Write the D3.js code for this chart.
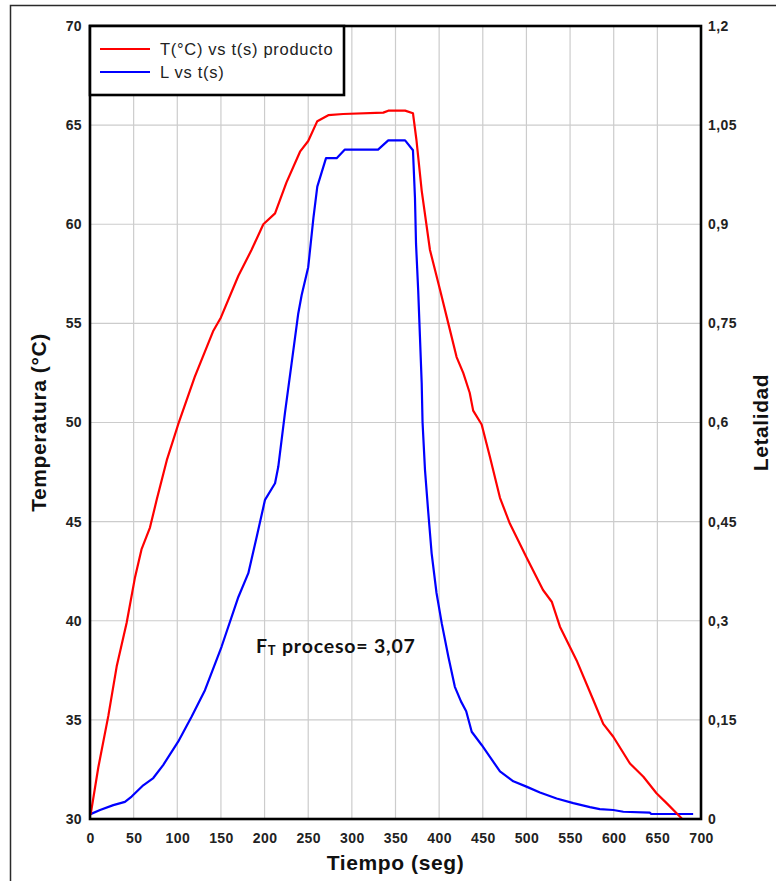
<!DOCTYPE html>
<html>
<head>
<meta charset="utf-8">
<script src="https://cdn.jsdelivr.net/npm/d3@7"></script>
<style>
  html, body { margin: 0; padding: 0; background: #fff; }
  svg { display: block; }
</style>
</head>
<body>
<svg id="chart" width="776" height="881"></svg>
<script>
// ---- Data ----
const tempTime = [0, 1, 9.5, 21, 30.6, 42, 51.6, 59, 68.7, 76.4, 88, 101, 120, 141, 150, 170, 185, 198.6, 212, 225, 240.6, 250, 260.4, 273, 290, 336, 341.7, 361, 370, 374, 380, 389.5, 401, 410.5, 420, 427.6, 435, 439, 448.7, 458, 469.7, 481, 500, 519, 529, 538.4, 557.5, 576.6, 588, 599.5, 618.6, 634, 649, 660.6, 678];
const tempValues = [30.2, 30.3, 32.6, 35.2, 37.7, 39.9, 42.2, 43.6, 44.7, 46.1, 48.1, 49.9, 52.3, 54.6, 55.3, 57.4, 58.7, 60.0, 60.55, 62.1, 63.66, 64.2, 65.2, 65.5, 65.56, 65.63, 65.73, 65.73, 65.6, 64.25, 61.7, 58.7, 56.7, 55.0, 53.3, 52.5, 51.5, 50.6, 49.9, 48.3, 46.2, 44.9, 43.2, 41.55, 40.96, 39.7, 38.0, 36.0, 34.8, 34.15, 32.8, 32.13, 31.3, 30.8, 30.03];

const letTime = [0, 11.5, 26.7, 40, 47.7, 61, 72.5, 84, 101, 116.5, 131.7, 150.8, 170, 181.4, 191, 200.5, 212, 215.7, 223.4, 231, 238.6, 242.5, 250, 256, 260.4, 270.4, 282.6, 292, 330, 341.7, 361, 370, 372.3, 373.5, 376, 378, 380, 381, 383.8, 387.6, 391.4, 397, 403, 410.5, 418, 425, 431, 437.3, 448.7, 469.7, 485, 500, 515.5, 534.6, 553.7, 572.8, 584, 599.5, 611, 641.5, 643, 691];
const letValues = [0.007, 0.0136, 0.021, 0.026, 0.034, 0.051, 0.062, 0.082, 0.117, 0.155, 0.195, 0.261, 0.336, 0.372, 0.427, 0.483, 0.508, 0.533, 0.615, 0.69, 0.765, 0.793, 0.835, 0.91, 0.957, 1.0, 1.0, 1.013, 1.013, 1.027, 1.027, 1.012, 0.94, 0.871, 0.80, 0.73, 0.66, 0.60, 0.528, 0.463, 0.402, 0.342, 0.296, 0.246, 0.20, 0.178, 0.163, 0.132, 0.112, 0.072, 0.057, 0.049, 0.040, 0.031, 0.024, 0.018, 0.015, 0.0136, 0.011, 0.0096, 0.0076, 0.0076];

const xTicks = [0, 50, 100, 150, 200, 250, 300, 350, 400, 450, 500, 550, 600, 650, 700];
const yLeftTicks = [30, 35, 40, 45, 50, 55, 60, 65, 70];
const yRightTicks = [0, 0.15, 0.3, 0.45, 0.6, 0.75, 0.9, 1.05, 1.2];

const seriesNames = ["T(°C) vs t(s) producto", "L vs t(s)"];
const seriesColors = ["#ff0000", "#0000ff"];

const xTitle = "Tiempo (seg)";
const yLeftTitle = "Temperatura (°C)";
const yRightTitle = "Letalidad";

// ---- Layout ----
const svg = d3.select("#chart");
const pL = 90, pR = 701, pT = 26, pB = 819;

const x = d3.scaleLinear().domain([0, 700]).range([pL, pR]);
const yL = d3.scaleLinear().domain([30, 70]).range([pB, pT]);
const yR = d3.scaleLinear().domain([0, 1.2]).range([pB, pT]);

const fmtComma = v => String(+v.toFixed(2)).replace(".", ",");
const tickFont = "'Liberation Sans', Arial, sans-serif";

// outer frame
svg.append("rect").attr("x", 10.5).attr("y", 5.5).attr("width", 800).attr("height", 900)
  .attr("fill", "none").attr("stroke", "#2a2a2a").attr("stroke-width", 1.5);

// grid
const grid = svg.append("g").attr("stroke", "#cccccc").attr("stroke-width", 1.2);
xTicks.filter(t => t > 0 && t < 700).forEach(t => {
  grid.append("line").attr("x1", x(t)).attr("x2", x(t)).attr("y1", pT).attr("y2", pB);
});
yLeftTicks.filter(t => t > 30 && t < 70).forEach(t => {
  grid.append("line").attr("x1", pL).attr("x2", pR).attr("y1", yL(t)).attr("y2", yL(t));
});

// axes (labels only, using d3 axes)
const axisStyle = g => {
  g.select(".domain").remove();
  g.selectAll(".tick line").remove();
  g.selectAll("text").attr("font-family", tickFont).attr("font-weight", "bold")
    .attr("font-size", 14).attr("letter-spacing", 0.4).attr("fill", "#222");
};
svg.append("g").attr("transform", `translate(0,${pB})`)
  .call(d3.axisBottom(x).tickValues(xTicks).tickSize(0).tickPadding(14))
  .call(axisStyle);
svg.append("g").attr("transform", `translate(${pL},0)`)
  .call(d3.axisLeft(yL).tickValues(yLeftTicks).tickSize(0).tickPadding(8))
  .call(axisStyle);
svg.append("g").attr("transform", `translate(${pR},0)`)
  .call(d3.axisRight(yR).tickValues(yRightTicks).tickSize(0).tickPadding(7).tickFormat(fmtComma))
  .call(axisStyle);

// lines
const lineT = d3.line().x(d => x(d[0])).y(d => yL(d[1]));
const lineL = d3.line().x(d => x(d[0])).y(d => yR(d[1]));
svg.append("path").datum(letTime.map((t, i) => [t, letValues[i]]))
  .attr("d", lineL).attr("fill", "none").attr("stroke", seriesColors[1]).attr("stroke-width", 2.2)
  .attr("stroke-linejoin", "round");
svg.append("path").datum(tempTime.map((t, i) => [t, tempValues[i]]))
  .attr("d", lineT).attr("fill", "none").attr("stroke", seriesColors[0]).attr("stroke-width", 2.2)
  .attr("stroke-linejoin", "round");

// plot border
svg.append("rect").attr("x", pL).attr("y", pT).attr("width", pR - pL).attr("height", pB - pT)
  .attr("fill", "none").attr("stroke", "#000").attr("stroke-width", 2.6);

// legend
const lg = svg.append("g");
lg.append("rect").attr("x", pL).attr("y", pT).attr("width", 254).attr("height", 69)
  .attr("fill", "#fff").attr("stroke", "#000").attr("stroke-width", 2.6);
seriesNames.forEach((name, i) => {
  const yy = 49 + i * 23;
  lg.append("line").attr("x1", 100).attr("x2", 150).attr("y1", yy).attr("y2", yy)
    .attr("stroke", seriesColors[i]).attr("stroke-width", 2.2);
  lg.append("text").attr("x", 160).attr("y", yy).attr("dy", "0.36em")
    .attr("font-family", tickFont).attr("font-size", 16.5).attr("letter-spacing", 0.7)
    .attr("fill", "#222").text(name);
});

// annotation
const ann = svg.append("text").attr("x", 256).attr("y", 653)
  .attr("font-family", "Lato, 'Open Sans', sans-serif").attr("font-weight", "bold")
  .attr("font-size", 19.5).attr("letter-spacing", 0.8).attr("fill", "#111");
ann.append("tspan").text("F");
ann.append("tspan").attr("font-size", 13).attr("dy", 2).text("T");
ann.append("tspan").attr("dy", -2).text(" proceso= 3,07");

// axis titles
svg.append("text").attr("x", (pL + pR) / 2).attr("y", 862).attr("dy", "0.36em")
  .attr("text-anchor", "middle").attr("font-family", tickFont).attr("font-weight", "bold")
  .attr("font-size", 21).attr("letter-spacing", 0.6).attr("fill", "#111").text(xTitle);
svg.append("text").attr("transform", `translate(38,${(pT + pB) / 2}) rotate(-90)`)
  .attr("dy", "0.36em").attr("text-anchor", "middle").attr("font-family", tickFont)
  .attr("font-weight", "bold").attr("font-size", 21).attr("letter-spacing", 0.6)
  .attr("fill", "#111").text(yLeftTitle);
svg.append("text").attr("transform", `translate(760,${(pT + pB) / 2}) rotate(-90)`)
  .attr("dy", "0.36em").attr("text-anchor", "middle").attr("font-family", tickFont)
  .attr("font-weight", "bold").attr("font-size", 21).attr("letter-spacing", 0.6)
  .attr("fill", "#111").text(yRightTitle);
</script>
</body>
</html>
